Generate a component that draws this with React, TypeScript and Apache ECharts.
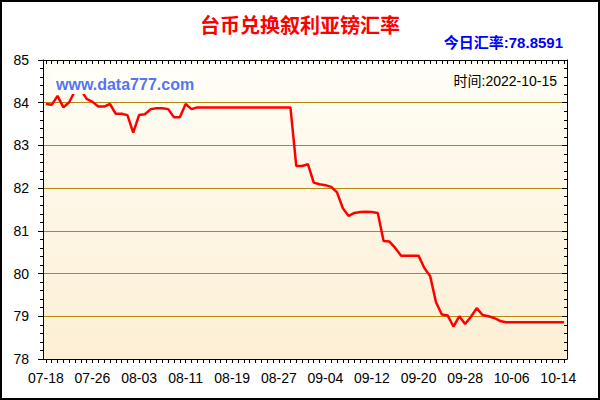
import React, { useEffect, useRef } from 'react';
import * as echarts from 'echarts';

// calendar days shown on the x axis
const julyDays = ['07-18', '07-19', '07-20', '07-21', '07-22', '07-23', '07-24', '07-25', '07-26', '07-27', '07-28', '07-29', '07-30', '07-31'];
const augustDays = [
  '08-01', '08-02', '08-03', '08-04', '08-05', '08-06', '08-07', '08-08', '08-09', '08-10',
  '08-11', '08-12', '08-13', '08-14', '08-15', '08-16', '08-17', '08-18', '08-19', '08-20',
  '08-21', '08-22', '08-23', '08-24', '08-25', '08-26', '08-27', '08-28', '08-29', '08-30', '08-31',
];
const septemberDays = [
  '09-01', '09-02', '09-03', '09-04', '09-05', '09-06', '09-07', '09-08', '09-09', '09-10',
  '09-11', '09-12', '09-13', '09-14', '09-15', '09-16', '09-17', '09-18', '09-19', '09-20',
  '09-21', '09-22', '09-23', '09-24', '09-25', '09-26', '09-27', '09-28', '09-29', '09-30',
];
const octoberDays = ['10-01', '10-02', '10-03', '10-04', '10-05', '10-06', '10-07', '10-08', '10-09', '10-10', '10-11', '10-12', '10-13', '10-14', '10-15'];
const days = [...julyDays, ...augustDays, ...septemberDays, ...octoberDays];

// TWD -> SYP rate, one value per day
const julyRates = [83.97, 83.95, 84.16, 83.89, 84.01, 84.28, 84.3, 84.09, 84.02, 83.91, 83.91, 83.97, 83.74, 83.74];
const augustRates = [
  83.71, 83.3, 83.71, 83.73, 83.85, 83.87, 83.87, 83.85, 83.66, 83.66,
  83.97, 83.85, 83.89, 83.89, 83.89, 83.89, 83.89, 83.89, 83.89, 83.89,
  83.89, 83.89, 83.89, 83.89, 83.89, 83.89, 83.89, 83.89, 83.89, 82.52, 82.52,
];
const septemberRates = [
  82.56, 82.13, 82.09, 82.07, 82.03, 81.9, 81.53, 81.35, 81.42, 81.44,
  81.45, 81.44, 81.42, 80.76, 80.75, 80.6, 80.42, 80.42, 80.42, 80.42,
  80.13, 79.94, 79.33, 79.04, 79.02, 78.76, 79.0, 78.82, 78.99, 79.19,
];
const octoberRates = [79.03, 79.0, 78.96, 78.89, 78.86, 78.86, 78.86, 78.86, 78.86, 78.86, 78.86, 78.86, 78.86, 78.86, 78.8591];
const rates = [...julyRates, ...augustRates, ...septemberRates, ...octoberRates];

const FONT = "'Liberation Sans', Arial, 'Noto Sans CJK SC', sans-serif";
const GOLD = '#B8860B';

const App: React.FC = () => {
  const chartRef = useRef<HTMLDivElement>(null);

  useEffect(() => {
    if (!chartRef.current) return;
    const chart = echarts.init(chartRef.current, undefined, { renderer: 'svg' });

    const option: echarts.EChartsOption = {
      animation: false,
      backgroundColor: '#fff',
      title: {
        text: '台币兑换叙利亚镑汇率',
        left: 'center',
        top: 9,
        textStyle: {
          color: '#FF0000',
          fontSize: 20,
          fontWeight: 'bold',
          fontFamily: "'Noto Sans CJK SC', sans-serif",
        },
      },
      grid: {
        left: 43,
        right: 33,
        top: 60,
        bottom: 41,
        show: true,
        borderWidth: 0,
        backgroundColor: new echarts.graphic.LinearGradient(0, 0, 0, 1, [
          { offset: 0, color: '#FFFEF6' },
          { offset: 1, color: '#FCEFD5' },
        ]) as any,
      },
      xAxis: [
        {
          type: 'category',
          data: days,
          boundaryGap: true,
          axisLine: { lineStyle: { color: '#000', width: 1 } },
          axisTick: { show: true, interval: 0, alignWithLabel: true, length: 4, lineStyle: { color: '#000' } },
          axisLabel: { interval: 7, color: '#000', fontSize: 14, fontFamily: FONT, margin: 12 },
          splitLine: { show: false },
        },
        {
          type: 'category',
          position: 'top',
          data: days,
          boundaryGap: true,
          axisLine: { lineStyle: { color: '#000', width: 1 } },
          axisTick: { show: true, inside: true, interval: 0, alignWithLabel: true, length: 4, lineStyle: { color: '#000' } },
          axisLabel: { show: false },
          splitLine: { show: false },
        },
      ],
      yAxis: [
        {
          type: 'value',
          min: 78,
          max: 85,
          interval: 1,
          axisLine: { show: true, lineStyle: { color: '#000' } },
          axisTick: { show: true, length: 5, lineStyle: { color: '#000' } },
          minorTick: { show: true, splitNumber: 5, length: 3, lineStyle: { color: '#000' } },
          axisLabel: { color: '#000', fontSize: 14, fontFamily: FONT, margin: 14 },
          splitLine: { show: true, lineStyle: { color: GOLD, width: 1 } },
        },
        {
          type: 'value',
          position: 'right',
          min: 78,
          max: 85,
          interval: 1,
          axisLine: { show: true, lineStyle: { color: '#000' } },
          axisTick: { show: true, inside: true, length: 5, lineStyle: { color: '#000' } },
          minorTick: { show: true, splitNumber: 5, length: 3, lineStyle: { color: '#000' } },
          axisLabel: { show: false },
          splitLine: { show: false },
        },
      ],
      series: [
        {
          type: 'line',
          data: rates,
          symbol: 'none',
          z: 3,
          lineStyle: { color: '#FF0000', width: 2.5 },
        },
      ],
      graphic: [
        {
          type: 'text',
          right: 37,
          top: 35,
          style: {
            text: '今日汇率:78.8591',
            fill: '#0000FF',
            font: `bold 15px ${FONT}`,
          },
        },
        {
          type: 'text',
          left: 53,
          top: 74,
          z: 100,
          style: {
            text: 'www.data777.com',
            fill: '#5575F0',
            font: `bold 16px ${FONT}`,
            backgroundColor: '#FFFFF8',
            padding: [2, 3, 2, 3],
          },
        },
        {
          type: 'text',
          right: 43,
          top: 74,
          z: 100,
          style: {
            text: '时间:2022-10-15',
            fill: '#000',
            font: `14px ${FONT}`,
          },
        },
        {
          type: 'rect',
          shape: { x: 1, y: 1, width: 598, height: 398 },
          style: { fill: 'none', stroke: '#000', lineWidth: 2 },
        },
      ],
    };

    chart.setOption(option);

    return () => {
      chart.dispose();
    };
  }, []);

  return <div ref={chartRef} style={{ position: 'fixed', left: 0, top: 0, width: 600, height: 400 }} />;
};

export default App;
